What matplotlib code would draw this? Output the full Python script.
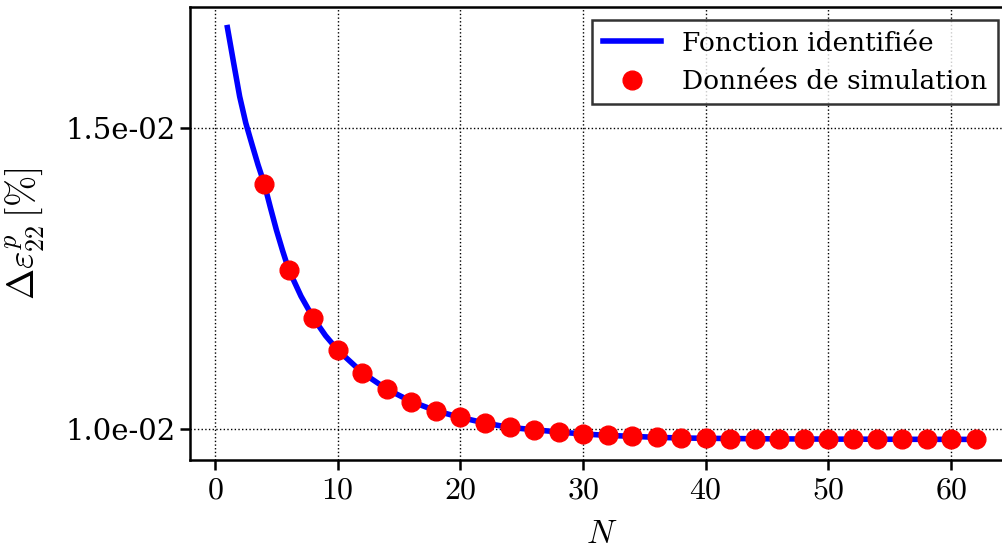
import numpy as np
from matplotlib import pyplot as plt
from matplotlib.ticker import FuncFormatter, FormatStrFormatter

plt.rcParams['font.family'] = 'DejaVu Serif'
plt.rcParams['mathtext.fontset'] = 'cm'

# identified function
fit_N = [1, 1.5, 2, 2.5, 3, 3.5, 4, 4.5, 5, 5.5, 6, 7, 8, 9, 10, 12, 14, 16, 18, 20,
         22, 24, 26, 28, 30, 32, 34, 36, 38, 40, 42, 44, 46, 48, 50, 52, 54, 56,
         58, 60, 62]
fit_val = [0.016664, 0.016086, 0.015519, 0.015078, 0.014727, 0.014384, 0.014075,
           0.013680, 0.013300, 0.012960, 0.012644, 0.012205, 0.011844, 0.011550,
           0.011310, 0.010935, 0.010661, 0.010456, 0.010302, 0.010192, 0.010099,
           0.010026, 0.009988, 0.009950, 0.009917, 0.009894, 0.009878, 0.009861,
           0.009851, 0.009845, 0.009842, 0.009838, 0.009836, 0.009834, 0.009832,
           0.009831, 0.009830, 0.009829, 0.009828, 0.009828, 0.009827]

# simulation points
sim_N = [4, 6, 8, 10, 12, 14, 16, 18, 20, 22, 24, 26, 28, 30, 32, 34, 36, 38,
         40, 42, 44, 46, 48, 50, 52, 54, 56, 58, 60, 62]
sim_val = [0.014075, 0.012644, 0.011844, 0.011310, 0.010935, 0.010661, 0.010456,
           0.010302, 0.010192, 0.010099, 0.010026, 0.009988, 0.009950, 0.009917,
           0.009894, 0.009878, 0.009861, 0.009851, 0.009845, 0.009842, 0.009838,
           0.009836, 0.009834, 0.009832, 0.009831, 0.009830, 0.009829, 0.009828,
           0.009828, 0.009827]

fig = plt.figure(figsize=(10.03, 5.5), dpi=100)
ax = fig.add_axes([190/1003, 1-460/550, 823/1003, 453/550])

ax.plot(fit_N, fit_val, color='blue', lw=4, label='Fonction identifiée', zorder=2)
ax.plot(sim_N, sim_val, 'o', color='red', markersize=13.5, label='Données de simulation', zorder=3)

ax.set_yticks([0.010, 0.015])
ax.yaxis.set_major_formatter(FormatStrFormatter('%.1e'))
ax.set_xticks(range(0, 61, 10))
ax.xaxis.set_major_formatter(FuncFormatter(lambda v, p: '$%d$' % v))
ax.tick_params(length=7, width=1.8, direction='out')
ax.tick_params(axis='y', labelsize=21)
ax.tick_params(axis='x', labelsize=23)
for s in ax.spines.values():
    s.set_linewidth(1.8)

ax.grid(True, linestyle=':', color='black', lw=1.0)
ax.set_xlabel('$N$', fontsize=24)
ax.set_ylabel(r'$\Delta\varepsilon_{22}^{p}\,[\%]$', fontsize=27)
ax.xaxis.set_label_coords(0.5, -0.128)
ax.yaxis.set_label_coords(-0.175, 0.5)

leg = ax.legend(loc='upper right', bbox_to_anchor=(998/1003, 1-20/550),
                bbox_transform=fig.transFigure, borderaxespad=0, fontsize=19,
                fancybox=False, edgecolor='black', handlelength=2.2)
leg.get_frame().set_linewidth(1.8)

fig.savefig('out.png', dpi=100)
